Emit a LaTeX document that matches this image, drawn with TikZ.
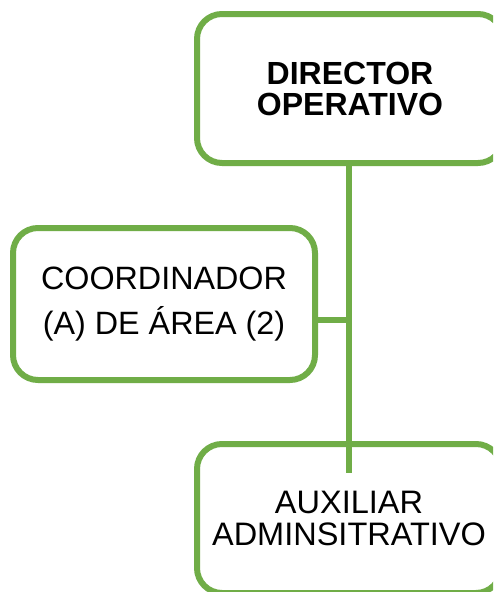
\documentclass[tikz,border=0pt]{standalone}
\usepackage{fontspec}
\setmainfont{Liberation Sans}
\definecolor{ogreen}{HTML}{70AD47}
\tikzset{
  orgbox/.style={draw=ogreen, line width=6pt, fill=white, rounded corners=25pt,
    align=center, inner sep=0pt},
  conn/.style={draw=ogreen, line width=6.5pt}
}
\begin{document}
\begin{tikzpicture}[x=1pt,y=-1pt]
\useasboundingbox (0,0) rectangle (493,592);
\clip (0,0) rectangle (493,592);
\fill[white] (0,0) rectangle (493,592);
\node[orgbox, minimum width=306pt, minimum height=149pt,
  font=\fontsize{32}{31}\selectfont\bfseries] (dir) at (350,88.5) {DIRECTOR\\OPERATIVO};
\node[orgbox, minimum width=302pt, minimum height=152pt,
  font=\fontsize{32.3}{45}\selectfont] (coord) at (164,304) {COORDINADOR\\(A) DE ÁREA (2)};
\node[orgbox, minimum width=304pt, minimum height=149pt,
  font=\fontsize{32.5}{32}\selectfont] (aux) at (349,518.5) {AUXILIAR\\ADMINSITRATIVO};
\coordinate (v) at (349,473);
\coordinate (h) at (352,320);
\draw[conn] (dir.south -| v) -- (v);
\draw[conn] (coord.east |- h) -- (h);
\end{tikzpicture}
\end{document}
